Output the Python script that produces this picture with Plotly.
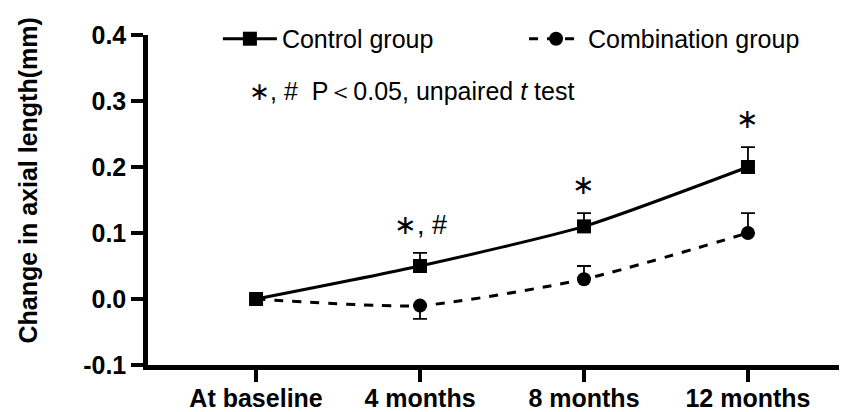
import plotly.graph_objects as go

categories = ["At baseline", "4 months", "8 months", "12 months"]
control = [0.0, 0.05, 0.11, 0.20]
control_err_up = [0.0, 0.02, 0.02, 0.03]
combination = [0.0, -0.01, 0.03, 0.10]
combination_err_up = [0.0, 0.0, 0.02, 0.03]
combination_err_down = [0.0, 0.02, 0.0, 0.0]
sig_labels = ["", "∗, #", "∗", "∗"]
y_ticks = [-0.1, 0.0, 0.1, 0.2, 0.3, 0.4]
y_tick_text = [f"{v:.1f}" for v in y_ticks]

x_idx = list(range(len(categories)))
FONT = "Liberation Sans, Arial"

fig = go.Figure()
fig.add_trace(go.Scatter(
    x=x_idx, y=control, name="Control group", mode="lines+markers",
    line=dict(color="black", width=3, shape="spline", smoothing=0.6),
    marker=dict(symbol="square", size=14, color="black"),
    error_y=dict(type="data", array=control_err_up, arrayminus=[0]*4,
                 symmetric=False, color="black", thickness=1.8, width=7),
    legend="legend",
))
fig.add_trace(go.Scatter(
    x=x_idx, y=combination, name="Combination group", mode="lines+markers",
    line=dict(color="black", width=3, dash="dash", shape="spline", smoothing=0.6),
    marker=dict(symbol="circle", size=14, color="black"),
    error_y=dict(type="data", array=combination_err_up, arrayminus=combination_err_down,
                 symmetric=False, color="black", thickness=1.8, width=7),
    legend="legend2",
))

for i, lab in enumerate(sig_labels):
    if lab:
        fig.add_annotation(x=i, y=control[i] + control_err_up[i], yshift=28, yanchor="middle",
                           text=lab, showarrow=False,
                           font=dict(family=FONT, size=27, color="black"))

fig.add_annotation(xref="paper", yref="paper", x=0.1416, y=0.829, xanchor="left", yanchor="middle",
                   text="∗, #  P＜0.05, unpaired <i>t</i> test", showarrow=False,
                   font=dict(family=FONT, size=25, color="black"))

fig.add_annotation(xref="paper", yref="paper", x=-0.173, y=0.559, xanchor="center", yanchor="middle",
                   text="Change in axial length(mm)", textangle=-90, showarrow=False,
                   font=dict(family=FONT, size=25, color="black", weight="bold"))

leg_common = dict(orientation="h", yanchor="middle", xanchor="left", y=0.988, itemwidth=54,
                  font=dict(size=25, color="black", family=FONT), bgcolor="rgba(0,0,0,0)")

fig.update_layout(
    width=847, height=412,
    margin=dict(l=140, r=8, t=17, b=55),
    plot_bgcolor="white", paper_bgcolor="white",
    font=dict(family=FONT, color="black"),
    showlegend=True,
    legend=dict(x=0.1, **leg_common),
    legend2=dict(x=0.538, **leg_common),
    xaxis=dict(tickmode="array", tickvals=x_idx, ticktext=categories,
               range=[-0.659, 3.604], showline=True, linewidth=4.5, linecolor="black",
               ticks="outside", ticklen=12, tickwidth=4, tickcolor="black",
               ticklabelstandoff=-5,
               showgrid=False, zeroline=False, automargin=False,
               tickfont=dict(size=25, color="black", family=FONT, weight="bold")),
    yaxis=dict(range=[-0.1, 0.4], tickmode="array", tickvals=y_ticks, ticktext=y_tick_text,
               showline=True, linewidth=4.5, linecolor="black",
               ticks="outside", ticklen=12, tickwidth=4, tickcolor="black",
               showgrid=False, zeroline=False, automargin=False,
               tickfont=dict(size=25, color="black", family=FONT, weight="bold")),
)

fig.write_html("out.html")
